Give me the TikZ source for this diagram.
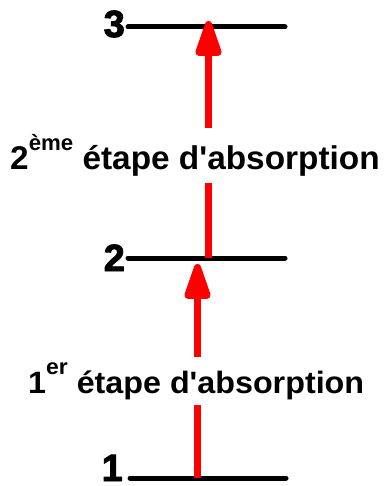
\documentclass[tikz,border=0pt]{standalone}
\usepackage{fontspec}
\setmainfont{Liberation Sans}
\newfontfamily\heavyfont[FakeBold=2.5]{Liberation Sans Bold}
\usetikzlibrary{arrows.meta}
\tikzset{
  level/.style={line width=5bp, line cap=round},
  lvlnum/.style={anchor=base east, inner sep=0pt, font=\heavyfont\fontsize{38}{38}\selectfont},
  absarrow/.style={red, line width=7bp, -{Triangle[length=43bp, width=27bp, round]}},
  steplabel/.style={anchor=base west, inner sep=0pt, fill=white, font=\bfseries}
}
\begin{document}
\begin{tikzpicture}[x=1bp, y=-1bp]
\useasboundingbox (0,0) rectangle (383,486);
% levels
\coordinate (l3a) at (128,27); \coordinate (l3b) at (285,27);
\coordinate (l2a) at (128,258); \coordinate (l2b) at (285,258);
\coordinate (l1a) at (130,478); \coordinate (l1b) at (286,478);
\draw[level] (l3a) -- (l3b);
\draw[level] (l2a) -- (l2b);
\draw[level] (l1a) -- (l1b);
\node[lvlnum] (n3) at (125,37) {3};
\node[lvlnum] (n2) at (125,271) {2};
\node[lvlnum] (n1) at (123,481) {1};
% arrows
\coordinate (a1s) at (197.5,478); \coordinate (a1t) at (197.5,264);
\coordinate (a2s) at (208.5,258); \coordinate (a2t) at (208.5,21);
\draw[absarrow] (a1s) -- (a1t);
\draw[absarrow] (a2s) -- (a2t);
% labels
\node[steplabel, inner ysep=6bp, xscale=1.015, font=\bfseries\fontsize{33}{33}\selectfont] (t2) at (10,170)
  {2\raisebox{0.6em}{\fontsize{22}{22}\selectfont ème} étape d\textquotesingle absorption};
\node[steplabel, inner ysep=6bp, xscale=1.045, font=\bfseries\fontsize{31}{31}\selectfont] (t1) at (28,393)
  {1\raisebox{0.6em}{\fontsize{22}{22}\selectfont er} étape d\textquotesingle absorption};
\end{tikzpicture}
\end{document}
